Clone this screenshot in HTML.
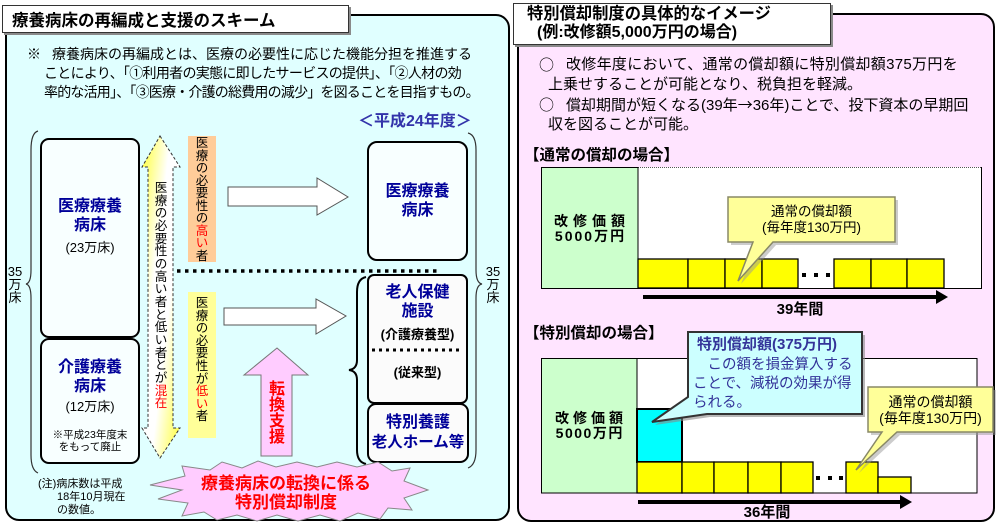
<!DOCTYPE html>
<html><head><meta charset="utf-8">
<style>
*{margin:0;padding:0;box-sizing:border-box}
body{width:997px;height:525px;position:relative;overflow:hidden;background:#fff;font-family:"Liberation Sans","Noto Sans CJK JP",sans-serif;color:#000}
.a{position:absolute;white-space:nowrap}
.c{text-align:center}
.b{font-weight:bold}
.nv{color:#000099}
.r{color:#f00}
.j{font-family:"Noto Sans CJK JP",sans-serif}
.v{position:absolute;word-break:break-all;line-break:anywhere;white-space:normal;text-align:center}
</style></head><body>
<div class="a" style="left:5px;top:14px;width:505px;height:507px;border:2px solid #000;border-radius:14px;background:#e0ffff"></div>
<div class="a" style="left:517px;top:13px;width:478px;height:509px;border:2px solid #000;border-radius:14px;background:#ffe4ff"></div>
<div class="a" style="left:2px;top:5px;width:347px;height:28px;border:1px solid #333;background:#fff;box-shadow:2px 2px 0 #8a8a8a"></div>
<div class="a" style="left:513px;top:3px;width:318px;height:42px;border:1px solid #333;background:#fff;box-shadow:2px 2px 0 #8a8a8a"></div>

<svg class="a" style="left:0;top:0" width="997" height="525" viewBox="0 0 997 525">
<defs>
<linearGradient id="dg" x1="0" y1="0" x2="1" y2="1">
<stop offset="0" stop-color="#ffff33"/><stop offset="0.38" stop-color="#ffffff"/><stop offset="0.62" stop-color="#ffffff"/><stop offset="1" stop-color="#ffff33"/>
</linearGradient>
</defs>
<path d="M38,131 Q31,133 31,150 L31,270 Q31,283 26,284 Q31,285 31,298 L31,455 Q31,470 38,473" fill="none" stroke="#333" stroke-width="1.2"/>
<path d="M468,133 Q476,135 476,150 L476,270 Q476,283 482,284 Q476,285 476,298 L476,450 Q476,465 468,468" fill="none" stroke="#333" stroke-width="1.2"/>
<path d="M366,277 Q357,279 357,292 L357,360 Q357,369 349,370 Q357,371 357,380 L357,450 Q357,462 366,464" fill="none" stroke="#000" stroke-width="2"/>
<rect x="41" y="139" width="98" height="198" rx="8" fill="#f8ffff" stroke="#000" stroke-width="2"/>
<rect x="41" y="339" width="98" height="124" rx="8" fill="#f8ffff" stroke="#000" stroke-width="2"/>
<rect x="368" y="142" width="99" height="118" rx="9" fill="#f8ffff" stroke="#000" stroke-width="2"/>
<rect x="368" y="275" width="99" height="128" rx="6" fill="#fbfbfb" stroke="#000" stroke-width="2"/>
<rect x="368" y="404" width="100" height="58" rx="8" fill="#fbfbfb" stroke="#000" stroke-width="2"/>
<line x1="372" y1="350" x2="463" y2="350" stroke="#000" stroke-width="3" stroke-dasharray="3 4"/>
<polygon points="160,136 180,167 173,167 173,428 180,428 160,458 142,428 148,428 148,167 142,167" fill="url(#dg)" stroke="#333" stroke-width="1" stroke-dasharray="3 2"/>
<rect x="188" y="136" width="28" height="126" fill="#ffcc99"/>
<rect x="188" y="292" width="28" height="146" fill="#ffff99"/>
<polygon points="228,187 317,187 317,178 348,197 317,215 317,206 228,206" fill="#fff" stroke="#555" stroke-width="1"/>
<polygon points="224,308 316,308 316,299 346,316 316,334 316,325 224,325" fill="#fff" stroke="#555" stroke-width="1"/>
<line x1="177" y1="271" x2="438" y2="271" stroke="#000" stroke-width="3.5" stroke-dasharray="3.5 4.5"/>
<polygon points="277,348 308,375 292,375 292,456 261,456 261,375 244,375" fill="#ffccff" stroke="#777" stroke-width="1"/>
<polygon points="150,485 185,476 182,466 210,470 222,462 242,468 258,461 276,467 297,462 317,467 337,462 357,467 378,462 392,471 410,468 404,481 428,490 404,498 412,510 388,508 380,519 358,513 340,521 320,515 298,521 277,515 257,521 237,515 217,520 204,512 182,516 188,503 158,499 182,490" fill="#ffccff" stroke="#888" stroke-width="1"/>

<rect x="541" y="167" width="440" height="121" fill="#fff"/>
<path d="M541.5,167 V288.5 H981.5 V167" fill="none" stroke="#000" stroke-width="1"/>
<line x1="638" y1="167.5" x2="981" y2="167.5" stroke="#555" stroke-width="1" stroke-dasharray="1 1"/>
<rect x="541.5" y="167.5" width="96.5" height="121" fill="#ccffcc" stroke="#000" stroke-width="1"/>
<g fill="#ffff00" stroke="#000" stroke-width="1.3">
<rect x="638" y="259" width="50" height="29"/><rect x="688" y="259" width="37" height="29"/><rect x="725" y="259" width="37" height="29"/><rect x="762" y="259" width="36" height="29"/>
<rect x="834" y="259" width="37" height="29"/><rect x="871" y="259" width="36" height="29"/><rect x="907" y="259" width="37" height="29"/>
</g>
<g fill="#000"><rect x="802" y="273" width="4" height="4"/><rect x="814" y="273" width="4" height="4"/><rect x="826" y="273" width="4" height="4"/></g>
<path d="M731,200 H898 V245 H776 L741,284 L756,245 H731 Z" fill="#999" opacity="0.5"/>
<path d="M728,197 H895 V242 H773 L738,281 L753,242 H728 Z" fill="#ffff99" stroke="#888866" stroke-width="1.5"/>
<line x1="643" y1="297" x2="938" y2="297" stroke="#000" stroke-width="4"/>
<polygon points="936,290 948,297 936,304" fill="#000"/>

<rect x="541.5" y="358.5" width="435.5" height="134.5" fill="#fff" stroke="#000" stroke-width="1"/>
<rect x="541.5" y="358.5" width="95.5" height="134.5" fill="#ccffcc" stroke="#000" stroke-width="1"/>
<rect x="637" y="409" width="45" height="53" fill="#00ffff" stroke="#000" stroke-width="2"/>
<g fill="#ffff00" stroke="#000" stroke-width="1.3">
<rect x="637" y="462" width="45" height="31"/><rect x="682" y="462" width="32" height="31"/><rect x="714" y="462" width="34" height="31"/><rect x="748" y="462" width="33" height="31"/><rect x="781" y="462" width="32" height="31"/>
<rect x="846" y="462" width="32" height="31"/><rect x="878" y="477" width="33" height="16"/>
</g>
<g fill="#000"><rect x="816" y="476" width="4" height="4"/><rect x="828" y="476" width="4" height="4"/><rect x="839" y="476" width="4" height="4"/></g>
<path d="M691,335 H865 V417 H710 L655,425 L691,400 Z" fill="#888" opacity="0.6"/>
<path d="M688,332 H862 V414 H707 L652,422 L688,397 Z" fill="#ccffff" stroke="#333" stroke-width="2"/>
<path d="M871,390 H996 V435 H900 L859,473 L885,435 H871 Z" fill="#999" opacity="0.5"/>
<path d="M868,387 H993 V432 H897 L856,470 L882,432 H868 Z" fill="#ffff99" stroke="#888866" stroke-width="1.5"/>
<line x1="638" y1="502" x2="902" y2="502" stroke="#000" stroke-width="4"/>
<polygon points="900,495 912,502 900,509" fill="#000"/>
</svg>

<div class="a b" style="left:12px;top:11px;font-size:16.5px;line-height:20px">療養病床の再編成と支援のスキーム</div>
<div class="a" style="left:27px;top:45px;font-size:14px;line-height:18px">※</div>
<div class="a" style="left:52px;top:45px;font-size:14px;line-height:18px">療養病床の再編成とは、医療の必要性に応じた機能分担を推進する</div>
<div class="a" style="left:44px;top:64px;font-size:14px;line-height:18px;letter-spacing:-0.7px">ことにより、「①利用者の実態に即したサービスの提供」、「②人材の効</div>
<div class="a" style="left:44px;top:83px;font-size:14px;line-height:18px;letter-spacing:-0.8px">率的な活用」、「③医療・介護の総費用の減少」を図ることを目指すもの。</div>
<div class="a b" style="left:358px;top:112px;font-size:16px;line-height:20px;color:#3333aa">＜平成24年度＞</div>

<div class="a c" style="left:6px;top:265px;width:18px;font-size:13px;line-height:13px">35<br>万<br>床</div>
<div class="a c" style="left:484px;top:265px;width:18px;font-size:13px;line-height:13px">35<br>万<br>床</div>

<div class="a c b nv" style="left:41px;top:197px;width:98px;font-size:16px;line-height:19px">医療療養<br>病床</div>
<div class="a c" style="left:41px;top:240px;width:98px;font-size:13px;line-height:16px">(23万床)</div>
<div class="a c b nv" style="left:41px;top:358px;width:98px;font-size:16px;line-height:19px">介護療養<br>病床</div>
<div class="a c" style="left:41px;top:399px;width:98px;font-size:13px;line-height:16px">(12万床)</div>
<div class="a c" style="left:41px;top:429px;width:98px;font-size:10.5px;line-height:12px">※平成23年度末<br>をもって廃止</div>
<div class="a" style="left:38px;top:478px;font-size:11px;line-height:13px">(注)病床数は平成</div>
<div class="a" style="left:57px;top:491px;font-size:11px;line-height:13px">18年10月現在</div>
<div class="a" style="left:57px;top:504px;font-size:11px;line-height:13px">の数値。</div>

<div class="v" style="left:154px;top:182px;width:14px;font-size:12.6px;line-height:12.67px">医療の必要性の高い者と低い者とが<span class="r">混在</span></div>
<div class="v" style="left:195px;top:137px;width:14px;font-size:12.5px;line-height:12.5px">医療の必要性の<span class="r">高い</span>者</div>
<div class="v" style="left:195px;top:297px;width:14px;font-size:12.5px;line-height:12.6px">医療の必要性が<span class="r">低い</span>者</div>
<div class="v b r" style="left:268px;top:382px;width:18px;font-size:16px;line-height:16px">転換支援</div>

<div class="a c b nv" style="left:368px;top:182px;width:99px;font-size:16px;line-height:19px">医療療養<br>病床</div>
<div class="a c b nv" style="left:368px;top:283px;width:99px;font-size:16px;line-height:19px">老人保健<br>施設</div>
<div class="a c b" style="left:368px;top:327px;width:99px;font-size:13px;line-height:16px">(介護療養型)</div>
<div class="a c b" style="left:368px;top:365px;width:99px;font-size:13px;line-height:16px">(従来型)</div>
<div class="a c b nv" style="left:368px;top:413px;width:100px;font-size:16px;line-height:20px">特別養護</div>
<div class="a c b nv" style="left:368px;top:433px;width:100px;font-size:15.5px;line-height:20px">老人ホーム等</div>

<div class="a c b r" style="left:186px;top:474px;width:200px;font-size:17px;line-height:19px">療養病床の転換に係る<br>特別償却制度</div>

<div class="a b" style="left:527px;top:5px;font-size:16.3px;line-height:18px">特別償却制度の具体的なイメージ</div>
<div class="a b" style="left:537px;top:24px;font-size:16px;line-height:18px">(例:改修額5,000万円の場合)</div>
<div class="a j" style="left:539px;top:55px;font-size:15px;line-height:20px">○</div>
<div class="a" style="left:566px;top:55px;font-size:15px;line-height:20px;letter-spacing:0.3px">改修年度において、通常の償却額に特別償却額375万円を</div>
<div class="a" style="left:548px;top:75px;font-size:15px;line-height:20px">上乗せすることが可能となり、税負担を軽減。</div>
<div class="a j" style="left:539px;top:95px;font-size:15px;line-height:20px">○</div>
<div class="a" style="left:566px;top:95px;font-size:15px;line-height:20px">償却期間が短くなる(39年<span class="j">→</span>36年)ことで、投下資本の早期回</div>
<div class="a" style="left:548px;top:115px;font-size:15px;line-height:20px">収を図ることが可能。</div>
<div class="a b" style="left:524px;top:147px;font-size:15.5px;line-height:18px">【通常の償却の場合】</div>
<div class="a b" style="left:524px;top:325px;font-size:15.5px;line-height:18px">【特別償却の場合】</div>

<div class="a c b" style="left:541px;top:214px;width:97px;font-size:14px;line-height:15px"><span style="letter-spacing:5px;padding-left:5px">改修価額</span><br><span style="letter-spacing:2px;padding-left:2px">5000万円</span></div>
<div class="a c b" style="left:541px;top:411px;width:96px;font-size:14px;line-height:15px"><span style="letter-spacing:4px;padding-left:4px">改修価額</span><br><span style="letter-spacing:1.5px;padding-left:1.5px">5000万円</span></div>

<div class="a c" style="left:728px;top:204px;width:167px;font-size:13.5px;line-height:16px">通常の償却額<br>(毎年度130万円)</div>
<div class="a c" style="left:868px;top:394px;width:125px;font-size:14px;line-height:16px">通常の償却額<br>(毎年度130万円)</div>

<div class="a b" style="left:697px;top:336px;font-size:15px;line-height:18px;color:#333399">特別償却額(375万円)</div>
<div class="a" style="left:693px;top:356px;font-size:14.5px;line-height:19px;color:#333399">　この額を損金算入する<br>ことで、減税の効果が得<br>られる。</div>

<div class="a c b" style="left:760px;top:301px;width:80px;font-size:15px;line-height:18px">39年間</div>
<div class="a c b" style="left:727px;top:504px;width:80px;font-size:15px;line-height:18px">36年間</div>
</body></html>
